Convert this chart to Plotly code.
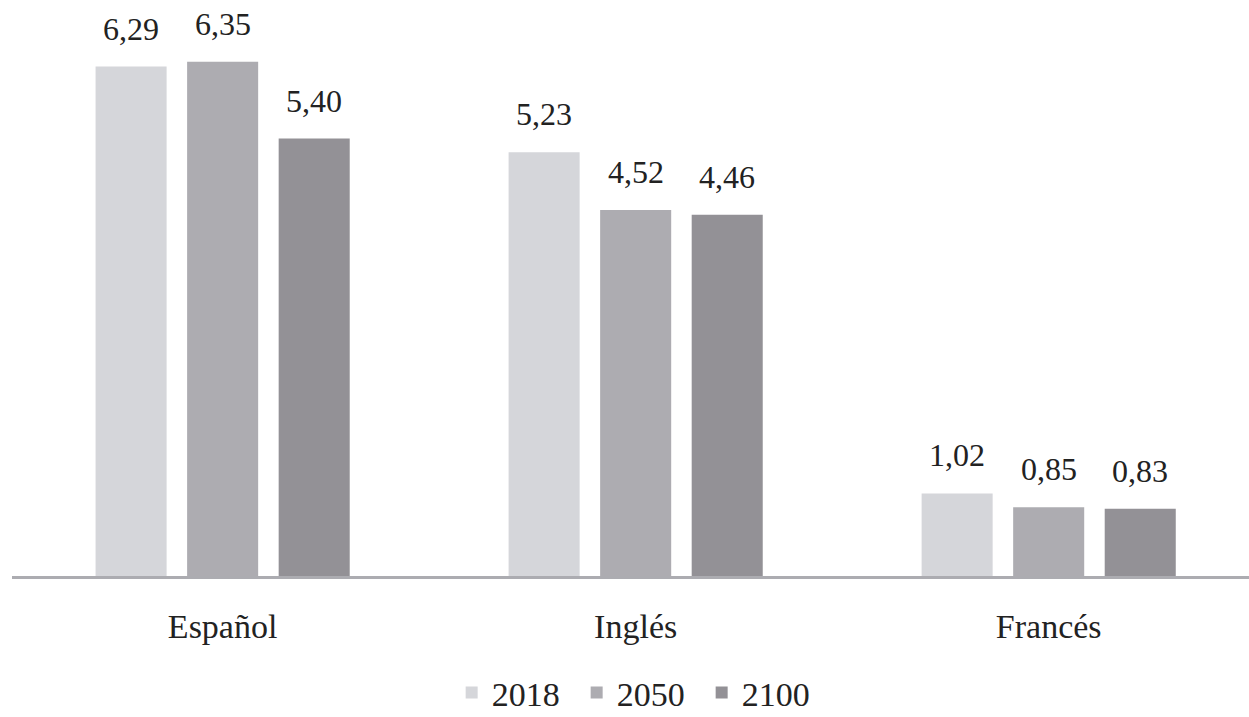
import plotly.graph_objects as go

categories = ["Español", "Inglés", "Francés"]
years = ["2018", "2050", "2100"]
values_2018 = [6.29, 5.23, 1.02]
values_2050 = [6.35, 4.52, 0.85]
values_2100 = [5.40, 4.46, 0.83]
colors = ["#d5d6da", "#adacb1", "#939196"]

SERIF = "'Liberation Serif', 'DejaVu Serif', serif"
SLOT_PX = 91.5  # pixel offset between grouped bars

series = [values_2018, values_2050, values_2100]
fig = go.Figure()
for i, (name, vals, col) in enumerate(zip(years, series, colors)):
    fig.add_trace(go.Bar(
        name=name, x=categories, y=vals, marker=dict(color=col, line=dict(width=0)),
    ))
    for cat, v in zip(categories, vals):
        fig.add_annotation(
            x=cat, y=v, text=f"{v:.2f}".replace(".", ","), showarrow=False,
            xanchor="center", yanchor="bottom", xshift=(i - 1) * SLOT_PX, yshift=18,
            font=dict(family=SERIF, size=32, color="#222222"),
        )

fig.update_layout(
    width=1249, height=717,
    margin=dict(l=12, r=0, t=9, b=141, autoexpand=False),
    paper_bgcolor="white", plot_bgcolor="white",
    barmode="group", bargap=0.335, bargroupgap=0.224,
    font=dict(family=SERIF, size=32, color="#222222"),
    xaxis=dict(range=[-0.51, 2.485], showline=True, linecolor="#acacb1", linewidth=3,
               ticks="", showgrid=False, tickfont=dict(family=SERIF, size=34), ticklabelstandoff=18,
               automargin=False),
    yaxis=dict(range=[0, 7], visible=False, showgrid=False, zeroline=False, automargin=False),
    legend=dict(orientation="h", x=0.507, xanchor="center", y=-0.206, yanchor="middle",
                font=dict(family=SERIF, size=34), itemwidth=30, entrywidth=80,
                traceorder="normal"),
    showlegend=True,
)

fig.write_html("out.html")
